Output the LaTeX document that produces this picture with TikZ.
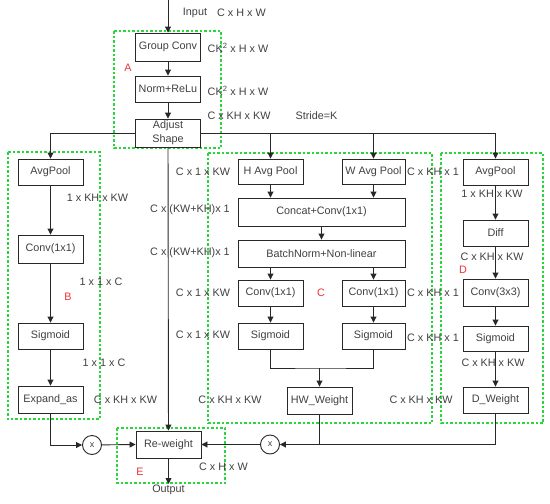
\documentclass[tikz,border=0pt]{standalone}
\usepackage{fontspec}
\setmainfont{Liberation Sans}
\usetikzlibrary{arrows.meta, positioning, calc}
\definecolor{boxgreen}{RGB}{40,215,60}
\definecolor{markred}{RGB}{232,52,52}
\definecolor{txtgray}{RGB}{64,64,64}
\definecolor{linegray}{RGB}{40,40,40}

\begin{document}
\begin{tikzpicture}[x=1pt, y=-1pt,
  font=\fontsize{10.8}{13}\selectfont,
  blk/.style={draw=linegray, line width=0.9pt, minimum width=65pt, minimum height=27pt, inner sep=1pt, text=txtgray, align=center},
  wide/.style={blk, minimum width=167pt},
  dim/.style={text=txtgray, inner sep=0pt},
  tag/.style={text=markred, inner sep=0pt},
  grp/.style={draw=boxgreen, line width=1.3pt, dash pattern=on 2.5pt off 2pt},
  mul/.style={circle, draw=linegray, line width=0.9pt, minimum size=19pt, inner sep=0pt, text=txtgray, font=\fontsize{9}{10}\selectfont},
  flow/.style={draw=linegray, line width=0.9pt, -{Triangle[length=6pt,width=6pt]}},
  wire/.style={draw=linegray, line width=0.9pt}]
  \useasboundingbox (0,0) rectangle (550,504);

  \draw[grp] (114,31) rectangle (221,148);
  \draw[grp] (8,152) rectangle (100,419);
  \draw[grp] (208,153) rectangle (432,423);
  \draw[grp] (441,153) rectangle (543,423);
  \draw[grp] (117,428) rectangle (225,483);

  \coordinate (input) at (168,0);
  \node[blk, minimum height=28pt] (gconv) at (168,47) {Group Conv};
  \node[blk, minimum height=26pt] (normrelu) at (168,89) {Norm+ReLu};
  \node[blk, minimum height=28pt, font=\fontsize{10.8}{14}\selectfont] (adjust) at (168,133) {Adjust\\Shape};

  \node[blk, minimum height=26pt] (avgB) at (50.5,172) {AvgPool};
  \node[blk, minimum height=28pt] (convB) at (50.5,249) {Conv(1x1)};
  \node[blk, minimum height=26pt] (sigB) at (50.5,336) {Sigmoid};
  \node[blk] (expB) at (50.5,399.5) {Expand\_as};

  \node[blk, minimum height=25pt] (hpool) at (270.5,171.5) {H Avg Pool};
  \node[blk, minimum height=25pt, minimum width=63pt] (wpool) at (373.5,171.5) {W Avg Pool};
  \node[wide, minimum height=28pt] (concat) at (321.5,212) {Concat+Conv(1x1)};
  \node[wide] (bnorm) at (321.5,253.5) {BatchNorm+Non-linear};
  \node[blk, minimum height=26pt] (convL) at (270.5,293) {Conv(1x1)};
  \node[blk, minimum height=26pt, minimum width=63pt] (convR) at (373.5,293) {Conv(1x1)};
  \node[blk, minimum height=26pt] (sigL) at (270.5,336) {Sigmoid};
  \node[blk, minimum height=26pt, minimum width=63pt] (sigR) at (373.5,336) {Sigmoid};
  \node[blk] (hw) at (319.5,400.5) {HW\_Weight};

  \node[blk, minimum height=26pt] (avgD) at (495.5,172) {AvgPool};
  \node[blk, minimum height=26pt] (diff) at (495.5,233) {Diff};
  \node[blk] (conv3) at (495.5,292.5) {Conv(3x3)};
  \node[blk, minimum height=25pt] (sigD) at (495.5,338.5) {Sigmoid};
  \node[blk, minimum height=26pt] (dw) at (495.5,400) {D\_Weight};

  \node[blk] (reweight) at (168.5,444.5) {Re-weight};
  \node[mul] (xL) at (92,445) {x};
  \node[mul] (xR) at (270,444.5) {x};
  \node[dim, anchor=north, inner sep=1pt] (output) at (168.5,484) {Output};
  \coordinate (hwjoin) at (319.5,368);

  \draw[flow] (input) -- (gconv);
  \draw[flow] (gconv) -- (normrelu);
  \draw[flow] (normrelu) -- (adjust);
  \draw[flow] (adjust.west) -| (avgB.north);
  \draw[flow] (adjust.east) -| (avgD.north);
  \draw[flow] (hpool.north |- adjust.east) -- (hpool.north);
  \draw[flow] (wpool.north |- adjust.east) -- (wpool.north);
  \draw[flow] (adjust) -- (reweight);

  \draw[flow] (avgB) -- (convB);
  \draw[flow] (convB) -- (sigB);
  \draw[flow] (sigB) -- (expB);
  \draw[flow] (expB.south) |- (xL.west);
  \draw[flow] (xL) -- (reweight.west);

  \draw[flow] (hpool.south) -- (hpool.south |- concat.north);
  \draw[flow] (wpool.south) -- (wpool.south |- concat.north);
  \draw[flow] (concat) -- (bnorm);
  \draw[flow] (convL.north |- bnorm.south) -- (convL.north);
  \draw[flow] (convR.north |- bnorm.south) -- (convR.north);
  \draw[flow] (convL) -- (sigL);
  \draw[flow] (convR) -- (sigR);
  \draw[wire] (sigL.south) |- (hwjoin) -| (sigR.south);
  \draw[flow] (hwjoin) -- (hw);
  \draw[wire] (hw.south) -- (hw.south |- xR.east);

  \draw[flow] (avgD) -- (diff);
  \draw[flow] (diff) -- (conv3);
  \draw[flow] (conv3) -- (sigD);
  \draw[flow] (sigD) -- (dw);
  \draw[flow] (dw.south) |- (xR.east);
  \draw[flow] (xR) -- (reweight.east);
  \draw[flow] (reweight) -- (output);

  \node[dim] at (195,13) {Input};
  \node[dim] at (241.5,13) {C x H x W};
  \node[dim] at (238,48) {CK\textsuperscript{2} x H x W};
  \node[dim] at (238,91) {CK\textsuperscript{2} x H x W};
  \node[dim] at (239,116) {C x KH x KW};
  \node[dim] at (316.5,116) {Stride=K};
  \node[tag] at (128,68) {A};

  \node[dim] at (97.5,198) {1 x KH x KW};
  \node[dim] at (101,282) {1 x 1 x C};
  \node[tag] at (68,297) {B};
  \node[dim] at (104,363) {1 x 1 x C};
  \node[dim] at (125.5,400) {C x KH x KW};

  \node[dim] at (203,172) {C x 1 x KW};
  \node[dim] at (190,210) {C x (KW+KH)x 1};
  \node[dim] at (190,253) {C x (KW+KH)x 1};
  \node[dim] at (203,293) {C x 1 x KW};
  \node[dim] at (203,335) {C x 1 x KW};
  \node[dim] at (230,400) {C x KH x KW};
  \node[tag] at (321,293) {C};
  \node[dim] at (433,172) {C x KH x 1};
  \node[dim] at (433,293) {C x KH x 1};
  \node[dim] at (433,338) {C x KH x 1};
  \node[dim] at (421,400) {C x KH x KW};

  \node[dim] at (492,194) {1 x KH x KW};
  \node[dim] at (492,257) {C x KH x KW};
  \node[tag] at (463,270) {D};
  \node[dim] at (493,363) {C x KH x KW};

  \node[tag] at (140,472) {E};
  \node[dim] at (223.5,467) {C x H x W};
\end{tikzpicture}
\end{document}
